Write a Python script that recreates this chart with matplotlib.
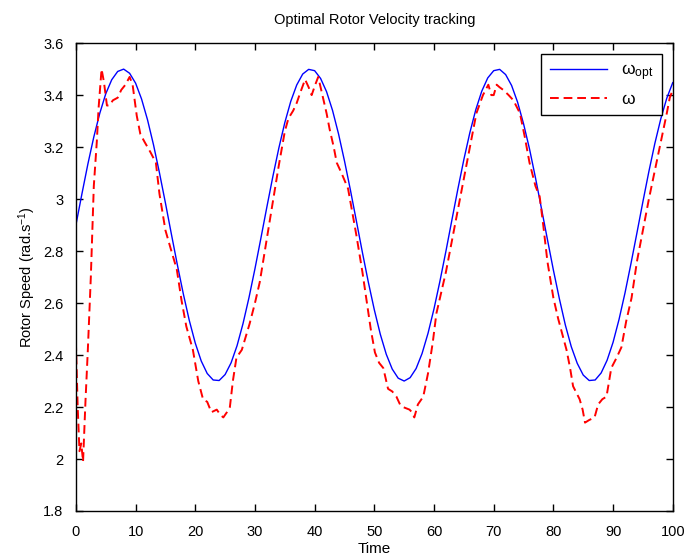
"""Optimal rotor velocity tracking: reference speed vs measured rotor speed."""

import matplotlib
matplotlib.use("Agg")
import matplotlib.pyplot as plt

# Reference (optimal) rotor speed, read at integer time steps 0..100
t_opt = list(range(0, 101))
omega_opt = [
    2.900, 3.019, 3.134, 3.239, 3.330, 3.405, 3.459, 3.491, 3.500, 3.484,
    3.446, 3.385, 3.305, 3.209, 3.101, 2.985, 2.865, 2.747, 2.635, 2.533,
    2.446, 2.377, 2.329, 2.304, 2.302, 2.325, 2.370, 2.436, 2.521, 2.621,
    2.732, 2.850, 2.970, 3.087, 3.196, 3.294, 3.376, 3.439, 3.481, 3.499,
    3.494, 3.464, 3.413, 3.341, 3.251, 3.147, 3.034, 2.915, 2.795, 2.680,
    2.574, 2.480, 2.403, 2.346, 2.311, 2.300, 2.313, 2.348, 2.406, 2.484,
    2.578, 2.685, 2.800, 2.920, 3.039, 3.152, 3.255, 3.344, 3.415, 3.466,
    3.494, 3.499, 3.479, 3.437, 3.373, 3.290, 3.193, 3.082, 2.964, 2.845,
    2.727, 2.617, 2.516, 2.432, 2.368, 2.323, 2.302, 2.304, 2.331, 2.380,
    2.449, 2.537, 2.639, 2.752, 2.870, 2.990, 3.106, 3.214, 3.309, 3.388,
    3.448,
]

t_meas = [
    0.0, 0.3, 0.6, 0.9, 1.2, 1.6, 2.0, 2.5, 3.0, 3.5, 3.8, 4.3, 4.7, 5.2, 5.6,
    6.2, 7.0, 7.6, 8.3, 9.0, 9.5, 10.2, 10.8, 11.5, 12.5, 13.4, 14.0, 15.0,
    16.0, 16.9, 17.7, 18.5, 19.6, 20.5, 21.3, 22.0, 22.7, 23.6, 24.2, 24.7,
    25.3, 25.8, 26.3, 26.9, 27.8, 29.1, 30.0, 30.8, 32.0, 33.0, 34.0, 35.0,
    35.6, 36.4, 37.0, 37.6, 38.4, 39.0, 39.5, 40.1, 40.6, 41.3, 42.0, 42.5,
    43.2, 43.7, 44.5, 45.6, 46.3, 47.0, 48.0, 48.7, 49.4, 50.1, 50.8, 51.5,
    52.3, 53.0, 53.7, 54.3, 54.8, 55.9, 56.3, 56.7, 57.3, 58.2, 59.0, 59.8,
    60.4, 61.0, 62.0, 63.0, 64.0, 65.0, 66.0, 67.1, 68.2, 69.1, 69.6, 70.0,
    70.5, 71.0, 71.6, 72.5, 73.3, 74.4, 75.2, 76.0, 77.0, 77.7, 78.3, 79.0,
    80.0, 80.8, 81.5, 82.2, 82.8, 83.3, 84.4, 84.9, 85.3, 86.0, 86.9, 87.5,
    88.2, 88.9, 89.7, 90.6, 91.4, 92.2, 93.1, 94.0, 95.0, 96.0, 97.0, 98.0,
    99.0, 99.5, 100.0,
]
omega_meas = [
    2.45, 2.20, 2.03, 2.06, 1.99, 2.22, 2.42, 2.70, 3.05, 3.22, 3.35, 3.50, 3.45, 3.36, 3.36,
    3.38, 3.39, 3.42, 3.44, 3.47, 3.44, 3.32, 3.25, 3.22, 3.18, 3.14, 3.02, 2.88,
    2.80, 2.73, 2.61, 2.51, 2.42, 2.30, 2.23, 2.22, 2.18, 2.19, 2.17, 2.16,
    2.18, 2.20, 2.30, 2.39, 2.42, 2.52, 2.60, 2.68, 2.85, 2.99, 3.13, 3.26,
    3.31, 3.34, 3.37, 3.41, 3.46, 3.43, 3.40, 3.44, 3.47, 3.40, 3.33, 3.27,
    3.20, 3.14, 3.10, 3.04, 2.95, 2.86, 2.72, 2.61, 2.50, 2.41, 2.37, 2.35,
    2.27, 2.26, 2.24, 2.21, 2.20, 2.19, 2.18, 2.16, 2.21, 2.24, 2.33, 2.45,
    2.56, 2.62, 2.72, 2.84, 2.96, 3.08, 3.20, 3.33, 3.40, 3.44, 3.40, 3.40,
    3.44, 3.43, 3.42, 3.40, 3.38, 3.33, 3.24, 3.14, 3.05, 3.01, 2.90, 2.76,
    2.62, 2.54, 2.48, 2.42, 2.35, 2.28, 2.23, 2.19, 2.14, 2.15, 2.16, 2.21,
    2.23, 2.24, 2.35, 2.39, 2.43, 2.53, 2.62, 2.76, 2.88, 3.00, 3.11, 3.22,
    3.33, 3.39, 3.42,
]

x_ticks = [0, 10, 20, 30, 40, 50, 60, 70, 80, 90, 100]
y_ticks = [1.8, 2.0, 2.2, 2.4, 2.6, 2.8, 3.0, 3.2, 3.4, 3.6]
y_ticklabels = ["1.8", "2", "2.2", "2.4", "2.6", "2.8", "3", "3.2", "3.4", "3.6"]

plt.rcParams["font.family"] = ["Liberation Sans", "DejaVu Sans"]
plt.rcParams["mathtext.fontset"] = "custom"
plt.rcParams["mathtext.rm"] = "Liberation Sans"
plt.rcParams["mathtext.it"] = "Liberation Sans"

fig = plt.figure(figsize=(6.9, 5.6), dpi=100)
ax = fig.add_axes([0.110, 0.0875, 0.865, 0.8355])

ax.plot(t_opt, omega_opt, color="#0000ff", linewidth=1.0, label=r"$\omega_{\rm opt}$")
ax.plot(t_meas, omega_meas, color="#ff0000", linewidth=1.4, linestyle=(0, (4.5, 2.5)),
        label=r"$\omega$")

ax.set_xlim(0, 100)
ax.set_ylim(1.8, 3.6)
ax.set_xticks(x_ticks)
ax.set_yticks(y_ticks)
ax.set_yticklabels(y_ticklabels)
ax.tick_params(direction="in", top=True, right=True, length=5, width=1, labelsize=10.5)
ax.tick_params(axis="y", pad=9)
ax.tick_params(axis="x", pad=10)
for spine in ax.spines.values():
    spine.set_linewidth(1.0)

ax.set_title("Optimal Rotor Velocity tracking", fontsize=10.5, pad=14)
ax.set_xlabel("Time", fontsize=11, labelpad=2)
ax.set_ylabel(r"Rotor Speed (rad.s$^{-1}$)", fontsize=10.5, labelpad=4)

leg = ax.legend(loc="upper right", fontsize=12.5, handlelength=3.3, frameon=True,
                fancybox=False, framealpha=1, borderaxespad=0.6, borderpad=0.5)
leg.get_frame().set_edgecolor("black")
leg.get_frame().set_linewidth(1.0)

fig.savefig("out.png", dpi=100)
